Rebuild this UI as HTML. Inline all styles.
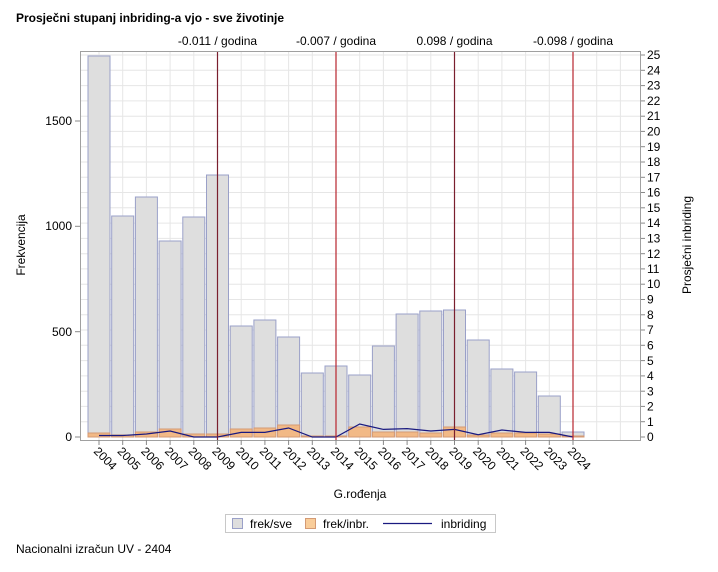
<!DOCTYPE html>
<html><head><meta charset="utf-8"><style>
body{margin:0;background:#fff;}
svg text{font-family:"Liberation Sans",sans-serif;fill:#000;}
</style></head><body>
<svg width="718" height="567" xmlns="http://www.w3.org/2000/svg">
<rect width="718" height="567" fill="#fff"/>
<text x="16" y="22" font-size="12" font-weight="bold">Prosječni stupanj inbriding-a vjo - sve životinje</text>
<g stroke="#e6e6e6" stroke-width="1">
<line x1="80" x2="640" y1="421.7" y2="421.7"/><line x1="80" x2="640" y1="406.4" y2="406.4"/><line x1="80" x2="640" y1="391.2" y2="391.2"/><line x1="80" x2="640" y1="375.9" y2="375.9"/><line x1="80" x2="640" y1="360.6" y2="360.6"/><line x1="80" x2="640" y1="345.3" y2="345.3"/><line x1="80" x2="640" y1="330" y2="330"/><line x1="80" x2="640" y1="314.8" y2="314.8"/><line x1="80" x2="640" y1="299.5" y2="299.5"/><line x1="80" x2="640" y1="284.2" y2="284.2"/><line x1="80" x2="640" y1="268.9" y2="268.9"/><line x1="80" x2="640" y1="253.7" y2="253.7"/><line x1="80" x2="640" y1="238.4" y2="238.4"/><line x1="80" x2="640" y1="223.1" y2="223.1"/><line x1="80" x2="640" y1="207.8" y2="207.8"/><line x1="80" x2="640" y1="192.5" y2="192.5"/><line x1="80" x2="640" y1="177.3" y2="177.3"/><line x1="80" x2="640" y1="162" y2="162"/><line x1="80" x2="640" y1="146.7" y2="146.7"/><line x1="80" x2="640" y1="131.4" y2="131.4"/><line x1="80" x2="640" y1="116.2" y2="116.2"/><line x1="80" x2="640" y1="100.9" y2="100.9"/><line x1="80" x2="640" y1="85.6" y2="85.6"/><line x1="80" x2="640" y1="70.3" y2="70.3"/><line x1="80" x2="640" y1="55" y2="55"/>
<line y1="51" y2="440" x1="99" x2="99"/><line y1="51" y2="440" x1="122.7" x2="122.7"/><line y1="51" y2="440" x1="146.4" x2="146.4"/><line y1="51" y2="440" x1="170.1" x2="170.1"/><line y1="51" y2="440" x1="193.8" x2="193.8"/><line y1="51" y2="440" x1="241.2" x2="241.2"/><line y1="51" y2="440" x1="264.9" x2="264.9"/><line y1="51" y2="440" x1="288.6" x2="288.6"/><line y1="51" y2="440" x1="312.3" x2="312.3"/><line y1="51" y2="440" x1="359.7" x2="359.7"/><line y1="51" y2="440" x1="383.4" x2="383.4"/><line y1="51" y2="440" x1="407.1" x2="407.1"/><line y1="51" y2="440" x1="430.8" x2="430.8"/><line y1="51" y2="440" x1="478.2" x2="478.2"/><line y1="51" y2="440" x1="501.9" x2="501.9"/><line y1="51" y2="440" x1="525.6" x2="525.6"/><line y1="51" y2="440" x1="549.3" x2="549.3"/><line y1="51" y2="440" x1="596.7" x2="596.7"/><line y1="51" y2="440" x1="620.4" x2="620.4"/>
</g>
<g fill="#dedede" stroke="#9aa0c8" stroke-width="1">
<rect x="88" y="56" width="22" height="381"/>
<rect x="111.7" y="216" width="22" height="221"/>
<rect x="135.4" y="197" width="22" height="240"/>
<rect x="159.1" y="241" width="22" height="196"/>
<rect x="182.8" y="217" width="22" height="220"/>
<rect x="206.5" y="175" width="22" height="262"/>
<rect x="230.2" y="326" width="22" height="111"/>
<rect x="253.9" y="320" width="22" height="117"/>
<rect x="277.6" y="337" width="22" height="100"/>
<rect x="301.3" y="373" width="22" height="64"/>
<rect x="325" y="366" width="22" height="71"/>
<rect x="348.7" y="375" width="22" height="62"/>
<rect x="372.4" y="346" width="22" height="91"/>
<rect x="396.1" y="314" width="22" height="123"/>
<rect x="419.8" y="311" width="22" height="126"/>
<rect x="443.5" y="310" width="22" height="127"/>
<rect x="467.2" y="340" width="22" height="97"/>
<rect x="490.9" y="369" width="22" height="68"/>
<rect x="514.6" y="372" width="22" height="65"/>
<rect x="538.3" y="396" width="22" height="41"/>
<rect x="562" y="432" width="22" height="5"/>
</g>
<g fill="#f2b986" stroke="#d49a74" stroke-width="1">
<rect x="88" y="433" width="22" height="4"/>
<rect x="111.7" y="435" width="22" height="2"/>
<rect x="135.4" y="432" width="22" height="5"/>
<rect x="159.1" y="429" width="22" height="8"/>
<rect x="182.8" y="434" width="22" height="3"/>
<rect x="206.5" y="434" width="22" height="3"/>
<rect x="230.2" y="429" width="22" height="8"/>
<rect x="253.9" y="428" width="22" height="9"/>
<rect x="277.6" y="425" width="22" height="12"/>
<rect x="301.3" y="436" width="22" height="1"/>
<rect x="325" y="436" width="22" height="1"/>
<rect x="348.7" y="427" width="22" height="10"/>
<rect x="372.4" y="432" width="22" height="5"/>
<rect x="396.1" y="432" width="22" height="5"/>
<rect x="419.8" y="433" width="22" height="4"/>
<rect x="443.5" y="427" width="22" height="10"/>
<rect x="467.2" y="435" width="22" height="2"/>
<rect x="490.9" y="433" width="22" height="4"/>
<rect x="514.6" y="433" width="22" height="4"/>
<rect x="538.3" y="434" width="22" height="3"/>
<rect x="562" y="436" width="22" height="1"/>
</g>
<polyline fill="none" stroke="#1a1a80" stroke-width="1.2" points="99,435.5 122.7,435.5 146.4,434 170.1,431 193.8,437 217.5,437 241.2,432.4 264.9,432.4 288.6,428 312.3,437 336,437 359.7,424 383.4,429.4 407.1,428.6 430.8,431 454.5,429.4 478.2,434.7 501.9,430 525.6,432.4 549.3,432.4 573,437"/>
<g stroke-width="1.2">
<line x1="217.5" x2="217.5" y1="51" y2="440" stroke="#7a1f2e"/>
<line x1="336" x2="336" y1="51" y2="440" stroke="#b8262e"/>
<line x1="454.5" x2="454.5" y1="51" y2="440" stroke="#7a1f2e"/>
<line x1="573" x2="573" y1="51" y2="440" stroke="#b8262e"/>
</g>
<g font-size="12" text-anchor="middle">
<text x="217.5" y="45">-0.011 / godina</text>
<text x="336" y="45">-0.007 / godina</text>
<text x="454.5" y="45">0.098 / godina</text>
<text x="573" y="45">-0.098 / godina</text>
</g>
<rect x="80.5" y="51.5" width="560" height="389" fill="none" stroke="#a0a0a0"/>
<g stroke="#888">
<line x1="75" x2="80" y1="437" y2="437"/><line x1="75" x2="80" y1="331.7" y2="331.7"/><line x1="75" x2="80" y1="226.3" y2="226.3"/><line x1="75" x2="80" y1="121" y2="121"/>
</g>
<g font-size="12" text-anchor="end">
<text x="72" y="441">0</text><text x="72" y="336">500</text><text x="72" y="230">1000</text><text x="72" y="125">1500</text>
</g>
<g stroke="#888">
<line x1="641" x2="645" y1="437" y2="437"/><line x1="641" x2="645" y1="421.7" y2="421.7"/><line x1="641" x2="645" y1="406.4" y2="406.4"/><line x1="641" x2="645" y1="391.2" y2="391.2"/><line x1="641" x2="645" y1="375.9" y2="375.9"/><line x1="641" x2="645" y1="360.6" y2="360.6"/><line x1="641" x2="645" y1="345.3" y2="345.3"/><line x1="641" x2="645" y1="330" y2="330"/><line x1="641" x2="645" y1="314.8" y2="314.8"/><line x1="641" x2="645" y1="299.5" y2="299.5"/><line x1="641" x2="645" y1="284.2" y2="284.2"/><line x1="641" x2="645" y1="268.9" y2="268.9"/><line x1="641" x2="645" y1="253.7" y2="253.7"/><line x1="641" x2="645" y1="238.4" y2="238.4"/><line x1="641" x2="645" y1="223.1" y2="223.1"/><line x1="641" x2="645" y1="207.8" y2="207.8"/><line x1="641" x2="645" y1="192.5" y2="192.5"/><line x1="641" x2="645" y1="177.3" y2="177.3"/><line x1="641" x2="645" y1="162" y2="162"/><line x1="641" x2="645" y1="146.7" y2="146.7"/><line x1="641" x2="645" y1="131.4" y2="131.4"/><line x1="641" x2="645" y1="116.2" y2="116.2"/><line x1="641" x2="645" y1="100.9" y2="100.9"/><line x1="641" x2="645" y1="85.6" y2="85.6"/><line x1="641" x2="645" y1="70.3" y2="70.3"/><line x1="641" x2="645" y1="55" y2="55"/>
</g>
<g font-size="12">
<text x="647" y="441">0</text><text x="647" y="426">1</text><text x="647" y="410.5">2</text><text x="647" y="395.5">3</text><text x="647" y="380">4</text><text x="647" y="365">5</text><text x="647" y="349.5">6</text><text x="647" y="334">7</text><text x="647" y="319">8</text><text x="647" y="303.5">9</text><text x="647" y="288">10</text><text x="647" y="273">11</text><text x="647" y="258">12</text><text x="647" y="242.5">13</text><text x="647" y="227">14</text><text x="647" y="212">15</text><text x="647" y="196.5">16</text><text x="647" y="181.5">17</text><text x="647" y="166">18</text><text x="647" y="151">19</text><text x="647" y="135.5">20</text><text x="647" y="120">21</text><text x="647" y="105">22</text><text x="647" y="89.5">23</text><text x="647" y="74.5">24</text><text x="647" y="59">25</text>
</g>
<g stroke="#888">
<line y1="440" y2="445" x1="99" x2="99"/><line y1="440" y2="445" x1="122.7" x2="122.7"/><line y1="440" y2="445" x1="146.4" x2="146.4"/><line y1="440" y2="445" x1="170.1" x2="170.1"/><line y1="440" y2="445" x1="193.8" x2="193.8"/><line y1="440" y2="445" x1="217.5" x2="217.5"/><line y1="440" y2="445" x1="241.2" x2="241.2"/><line y1="440" y2="445" x1="264.9" x2="264.9"/><line y1="440" y2="445" x1="288.6" x2="288.6"/><line y1="440" y2="445" x1="312.3" x2="312.3"/><line y1="440" y2="445" x1="336" x2="336"/><line y1="440" y2="445" x1="359.7" x2="359.7"/><line y1="440" y2="445" x1="383.4" x2="383.4"/><line y1="440" y2="445" x1="407.1" x2="407.1"/><line y1="440" y2="445" x1="430.8" x2="430.8"/><line y1="440" y2="445" x1="454.5" x2="454.5"/><line y1="440" y2="445" x1="478.2" x2="478.2"/><line y1="440" y2="445" x1="501.9" x2="501.9"/><line y1="440" y2="445" x1="525.6" x2="525.6"/><line y1="440" y2="445" x1="549.3" x2="549.3"/><line y1="440" y2="445" x1="573" x2="573"/>
</g>
<g font-size="12">
<text transform="translate(93,452) rotate(45)">2004</text>
<text transform="translate(116.7,452) rotate(45)">2005</text>
<text transform="translate(140.4,452) rotate(45)">2006</text>
<text transform="translate(164.1,452) rotate(45)">2007</text>
<text transform="translate(187.8,452) rotate(45)">2008</text>
<text transform="translate(211.5,452) rotate(45)">2009</text>
<text transform="translate(235.2,452) rotate(45)">2010</text>
<text transform="translate(258.9,452) rotate(45)">2011</text>
<text transform="translate(282.6,452) rotate(45)">2012</text>
<text transform="translate(306.3,452) rotate(45)">2013</text>
<text transform="translate(330,452) rotate(45)">2014</text>
<text transform="translate(353.7,452) rotate(45)">2015</text>
<text transform="translate(377.4,452) rotate(45)">2016</text>
<text transform="translate(401.1,452) rotate(45)">2017</text>
<text transform="translate(424.8,452) rotate(45)">2018</text>
<text transform="translate(448.5,452) rotate(45)">2019</text>
<text transform="translate(472.2,452) rotate(45)">2020</text>
<text transform="translate(495.9,452) rotate(45)">2021</text>
<text transform="translate(519.6,452) rotate(45)">2022</text>
<text transform="translate(543.3,452) rotate(45)">2023</text>
<text transform="translate(567,452) rotate(45)">2024</text>
</g>
<text x="360" y="498" font-size="12" text-anchor="middle">G.rođenja</text>
<text transform="translate(25,245) rotate(-90)" font-size="12" text-anchor="middle">Frekvencija</text>
<text transform="translate(691,245) rotate(-90)" font-size="12" text-anchor="middle">Prosječni inbriding</text>
<rect x="225.5" y="514.5" width="270" height="18" fill="#fff" stroke="#c8c8c8"/>
<rect x="232.5" y="518.5" width="10" height="10" fill="#dedede" stroke="#9aa0c8"/>
<text x="250" y="528" font-size="12">frek/sve</text>
<rect x="305.5" y="518.5" width="10" height="10" fill="#f9cd9a" stroke="#d49a74"/>
<text x="323" y="528" font-size="12">frek/inbr.</text>
<line x1="383" x2="432" y1="523.5" y2="523.5" stroke="#1a1a80" stroke-width="1.2"/>
<text x="441" y="528" font-size="12">inbriding</text>
<text x="16" y="553" font-size="12">Nacionalni izračun UV - 2404</text>
</svg>
</body></html>
